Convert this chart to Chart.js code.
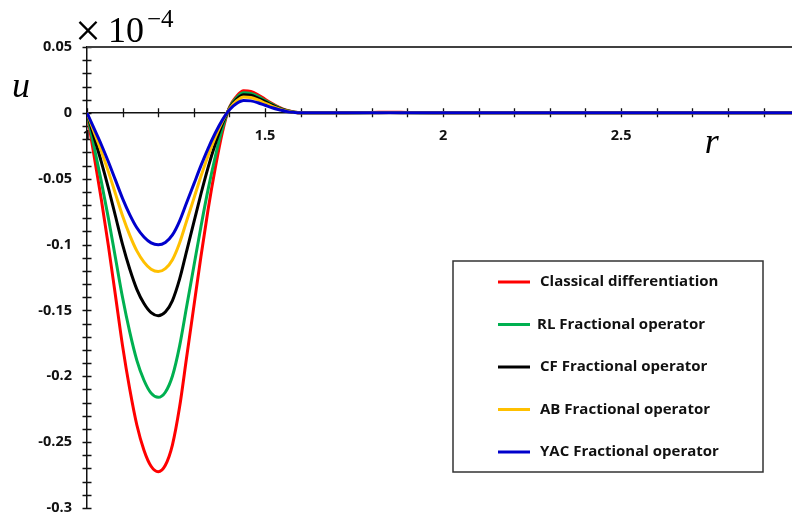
<!DOCTYPE html>
<html><head><meta charset="utf-8">
<script src="https://cdn.jsdelivr.net/npm/chart.js@4/dist/chart.umd.min.js"></script>
<style>html,body{margin:0;padding:0;background:#fff}#wrap{width:792px;height:512px}</style>
</head><body><div id="wrap"><canvas id="c" width="792" height="512"></canvas></div>
<script>
// ---- data (values in units of 1e-4) ----
const rValues = [1.00,1.02,1.04,1.06,1.08,1.10,1.12,1.14,1.16,1.18,1.20,1.22,1.24,1.26,1.28,1.30,1.32,1.34,1.36,1.38,
  1.40,1.42,1.44,1.46,1.48,1.50,1.52,1.54,1.56,1.58,1.60,1.65,1.70,1.80,1.85,1.90,2.00,2.50,2.98];
const classical = [0,-0.0327,-0.0654,-0.1008,-0.1389,-0.1771,-0.2097,-0.2370,-0.2561,-0.2683,-0.2724,-0.2675,-0.2520,-0.2234,-0.1852,-0.1471,-0.1090,-0.0735,-0.0422,-0.0150,
  0.0042,0.0125,0.0167,0.0162,0.0137,0.0104,0.0070,0.0042,0.0020,0.0007,0,0,0,0.0003,0.0005,0.0003,0,0,0];
const rlFrac = [0,-0.0259,-0.0518,-0.0799,-0.1102,-0.1404,-0.1663,-0.1879,-0.2030,-0.2128,-0.2160,-0.2121,-0.1998,-0.1771,-0.1469,-0.1166,-0.0864,-0.0583,-0.0335,-0.0119,
  0.0038,0.0114,0.0152,0.0147,0.0125,0.0094,0.0064,0.0038,0.0018,0.0006,0,0,0,0.0002,0.0003,0.0002,0,0,0];
const cfFrac = [0,-0.0185,-0.0370,-0.0570,-0.0785,-0.1001,-0.1186,-0.1340,-0.1448,-0.1517,-0.1540,-0.1512,-0.1425,-0.1263,-0.1047,-0.0832,-0.0616,-0.0416,-0.0239,-0.0085,
  0.0034,0.0103,0.0137,0.0133,0.0112,0.0085,0.0058,0.0034,0.0016,0.0005,0,0,0,0.0001,0.0002,0.0001,0,0,0];
const abFrac = [0,-0.0145,-0.0289,-0.0446,-0.0615,-0.0783,-0.0928,-0.1048,-0.1133,-0.1187,-0.1205,-0.1183,-0.1115,-0.0988,-0.0819,-0.0651,-0.0482,-0.0325,-0.0187,-0.0066,
  0.0030,0.0090,0.0120,0.0116,0.0098,0.0074,0.0050,0.0030,0.0014,0.0005,0,0,0,0.0001,0.0001,0.0001,0,0,0];
const yacFrac = [0,-0.0120,-0.0240,-0.0371,-0.0511,-0.0651,-0.0772,-0.0872,-0.0942,-0.0987,-0.1002,-0.0984,-0.0927,-0.0822,-0.0681,-0.0541,-0.0401,-0.0271,-0.0155,-0.0055,
  0.0024,0.0071,0.0094,0.0091,0.0077,0.0058,0.0039,0.0024,0.0011,0.0004,0,0,0,0,0.0001,0,0,0,0];
const seriesNames = ['Classical differentiation','RL Fractional operator','CF Fractional operator','AB Fractional operator','YAC Fractional operator'];
const seriesColors = ['#FF0000','#00B050','#000000','#FFC000','#0000CC'];
const xTickLabels = [1, 1.5, 2, 2.5];
const yTickLabels = [0.05, 0, -0.05, -0.1, -0.15, -0.2, -0.25, -0.3];

const allSeries = [classical, rlFrac, cfFrac, abFrac, yacFrac];
const datasets = allSeries.map((vals, i) => ({
  label: seriesNames[i],
  data: rValues.map((r, k) => ({x: r, y: vals[k]})),
  borderColor: seriesColors[i],
  backgroundColor: seriesColors[i],
  borderWidth: 3,
  pointRadius: 0,
  fill: false,
  cubicInterpolationMode: 'monotone',
  order: allSeries.length - i
}));

const near = (v, list) => list.find(t => Math.abs(v - t) < 1e-6);
const fmt = v => String(Number(v.toFixed(2)));

const decor = {
  id: 'decor',
  beforeDatasetsDraw(chart) {
    const ctx = chart.ctx, xs = chart.scales.x, ys = chart.scales.y;
    const x0 = xs.left, y0 = ys.getPixelForValue(0);
    ctx.save();
    ctx.strokeStyle = '#111';
    ctx.lineWidth = 1.3;
    ctx.beginPath();
    ys.ticks.forEach(t => { const py = Math.round(ys.getPixelForValue(t.value)) + 0.5; ctx.moveTo(x0 - 4.5, py); ctx.lineTo(x0 + 4.5, py); });
    xs.ticks.forEach(t => { const px = Math.round(xs.getPixelForValue(t.value)) + 0.5; ctx.moveTo(px, y0 - 4.5); ctx.lineTo(px, y0 + 4.5); });
    ctx.stroke();
    // top frame line
    ctx.strokeStyle = '#404040';
    ctx.lineWidth = 2;
    ctx.beginPath();
    ctx.moveTo(chart.chartArea.left, chart.chartArea.top);
    ctx.lineTo(chart.chartArea.right, chart.chartArea.top);
    ctx.stroke();
    ctx.restore();
  },
  afterDraw(chart) {
    const ctx = chart.ctx, ca = chart.chartArea, xs = chart.scales.x, ys = chart.scales.y;
    ctx.save();
    ctx.fillStyle = '#000';
    // axis titles
    ctx.font = 'italic 36px "Liberation Serif"';
    ctx.textAlign = 'left';
    ctx.textBaseline = 'alphabetic';
    ctx.fillText('u', 12, ys.getPixelForValue(0.012));
    ctx.fillText('r', xs.getPixelForValue(2.735), ys.getPixelForValue(-0.0305));
    // exponent
    ctx.font = '46px "Liberation Serif"';
    ctx.fillText('\u00D7', 75, 46);
    ctx.font = '36px "Liberation Serif"';
    ctx.fillText('10', 108, 42);
    ctx.font = '25px "Liberation Serif"';
    ctx.fillText('\u22124', 147, 27);
    // legend box
    const bx = ca.right - 339, by = ca.top + 214, bw = 310, bh = 211;
    ctx.strokeStyle = '#333';
    ctx.lineWidth = 1.5;
    ctx.strokeRect(bx, by, bw, bh);
    ctx.font = 'bold 15px "Open Sans"';
    ctx.textBaseline = 'middle';
    chart.data.datasets.forEach((ds, i) => {
      const cy = by + 21 + i * 42.5;
      ctx.strokeStyle = ds.borderColor;
      ctx.lineWidth = 3;
      ctx.beginPath();
      ctx.moveTo(bx + 45, cy);
      ctx.lineTo(bx + 77, cy);
      ctx.stroke();
      ctx.fillStyle = '#111';
      ctx.fillText(ds.label, bx + (i === 1 ? 84 : 87), cy);
    });
    ctx.restore();
  }
};

new Chart(document.getElementById('c'), {
  type: 'line',
  data: { datasets },
  plugins: [decor],
  options: {
    responsive: false,
    animation: false,
    devicePixelRatio: 1,
    layout: { padding: { top: 47, left: 0, right: 0, bottom: 4 } },
    plugins: { legend: { display: false }, tooltip: { enabled: false } },
    scales: {
      x: {
        type: 'linear', min: 1, max: 2.98, position: { y: 0 },
        grid: { drawOnChartArea: false, drawTicks: false },
        border: { display: true, color: '#111', width: 1.5 },
        ticks: {
          stepSize: 0.1, autoSkip: false, includeBounds: false, maxRotation: 0, padding: 14,
          color: '#111', font: { family: 'Open Sans', weight: 'bold', size: 14.5 },
          callback: v => { const t = near(v, xTickLabels); return t === undefined ? '' : String(t); }
        },
        afterFit: s => { s.height = 0; s.paddingLeft = 0; s.paddingRight = 0; }
      },
      y: {
        type: 'linear', min: -0.3, max: 0.05,
        grid: { drawOnChartArea: false, drawTicks: false },
        border: { display: true, color: '#111', width: 1.5 },
        ticks: {
          stepSize: 0.01, autoSkip: false, padding: 15,
          color: '#111', font: { family: 'Open Sans', weight: 'bold', size: 14.5 },
          callback: v => { const t = near(v, yTickLabels); return t === undefined ? '' : fmt(t); }
        },
        afterFit: s => { s.width = 87; s.paddingTop = 0; s.paddingBottom = 0; }
      }
    }
  }
});
</script></body></html>
